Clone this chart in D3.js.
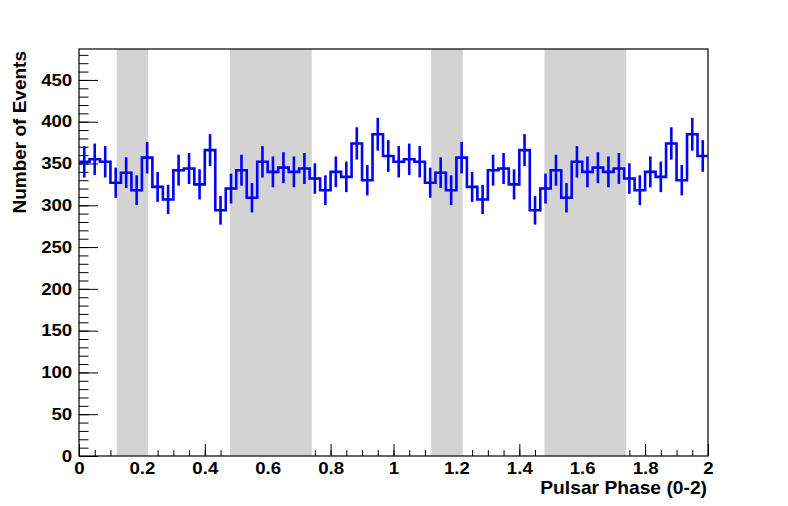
<!DOCTYPE html>
<html>
<head>
<meta charset="utf-8">
<script src="https://cdn.jsdelivr.net/npm/d3@7"></script>
<style>
	body { margin: 0; background: #fff; }
	svg { display: block; }
	text { font-family: 'Liberation Sans', Arial, sans-serif; font-weight: bold; fill: #000; }
	.tick text { font-size: 16.5px; }
	.axis-title { font-size: 17.5px; }
	.y-title { font-size: 19px; }
</style>
</head>
<body>
<div id="chart"></div>
<script>
// 60 bins over phase 0-2 (phase 0-1 shown twice)
const counts = [
	352, 355, 352, 327, 339, 318, 357, 322, 307, 342,
	344, 325, 366, 294, 320, 342, 309, 352, 340, 345,
	340, 344, 332, 318, 340, 334, 374, 330, 385, 359,
	352, 355, 352, 327, 339, 318, 357, 322, 307, 342,
	344, 325, 366, 294, 320, 342, 309, 352, 340, 345,
	340, 344, 332, 318, 340, 334, 374, 330, 385, 359
];
const offStart = [0.12, 0.48, 1.12, 1.48];
const offEnd = [0.22, 0.74, 1.22, 1.74];
const phaseRange = [0, 2];
const countRange = [0, 487];
const xTitle = 'Pulsar Phase (0-2)';
const yTitle = 'Number of Events';

const margin = { top: 49, right: 80, bottom: 50, left: 79 };
const width = 788 - margin.left - margin.right,
			height = 506 - margin.top - margin.bottom;
const binWidth = (phaseRange[1] - phaseRange[0]) / counts.length;

const xScale = d3.scaleLinear().domain(phaseRange).range([0, width]);
const yScale = d3.scaleLinear().domain(countRange).range([height, 0]);

const svg = d3.select('#chart').append('svg')
	.attr('width', 788)
	.attr('height', 506);
const g = svg.append('g')
	.attr('transform', 'translate(' + margin.left + ',' + margin.top + ')');

// minor ticks
g.append('g')
	.attr('transform', 'translate(0,' + height + ')')
	.call(d3.axisBottom(xScale).tickValues(xScale.ticks(40)).tickSize(-6).tickFormat(''))
	.call(a => a.select('.domain').remove());
g.append('g')
	.call(d3.axisLeft(yScale).tickValues(yScale.ticks(50)).tickSize(-9.5).tickFormat(''))
	.call(a => a.select('.domain').remove());

// major ticks + labels
g.append('g')
	.attr('transform', 'translate(0,' + height + ')')
	.call(d3.axisBottom(xScale).tickValues(xScale.ticks(10)).tickSize(-12).tickPadding(6).tickFormat(d3.format('~g')))
	.call(a => a.select('.domain').remove());
g.append('g')
	.call(d3.axisLeft(yScale).tickValues(yScale.ticks(10)).tickSize(-19).tickPadding(6).tickFormat(d3.format('~g')))
	.call(a => a.select('.domain').remove());
g.selectAll('.tick line').attr('stroke', '#000');
// the labels in the reference are a bit wider than plain Helvetica
g.selectAll('.tick text').attr('transform', 'scale(1.13,1)');

// off-pulse regions
g.append('g').selectAll('rect').data(offStart)
	.enter().append('rect')
		.attr('x', d => xScale(d))
		.attr('y', 0)
		.attr('width', (d, i) => xScale(offEnd[i]) - xScale(d))
		.attr('height', height)
		.style('fill', '#d3d3d3');

// frame
g.append('rect')
	.attr('x', 0)
	.attr('y', 0)
	.attr('width', width)
	.attr('height', height)
	.style('fill', 'none')
	.style('stroke', '#000')
	.style('stroke-width', 1.2);

// histogram steps
const steps = [];
counts.forEach((c, i) => {
	steps.push([phaseRange[0] + i * binWidth, c]);
	steps.push([phaseRange[0] + (i + 1) * binWidth, c]);
});
g.append('path')
	.datum(steps)
	.attr('d', d3.line().x(d => xScale(d[0])).y(d => yScale(d[1])))
	.style('fill', 'none')
	.style('stroke', '#0000ff')
	.style('stroke-width', 2.6);

// poisson error bars
g.append('g').selectAll('line').data(counts)
	.enter().append('line')
		.attr('x1', (d, i) => xScale(phaseRange[0] + (i + 0.5) * binWidth))
		.attr('x2', (d, i) => xScale(phaseRange[0] + (i + 0.5) * binWidth))
		.attr('y1', d => yScale(d - Math.sqrt(d)))
		.attr('y2', d => yScale(d + Math.sqrt(d)))
		.style('stroke', '#0000ff')
		.style('stroke-width', 2.6);

svg.append('text')
	.attr('class', 'axis-title')
	.attr('text-anchor', 'end')
	.attr('transform', 'translate(' + (margin.left + width - 1) + ',494) scale(1.1,1)')
	.text(xTitle);

svg.append('text')
	.attr('class', 'y-title')
	.attr('x', 26)
	.attr('y', margin.top + 2)
	.attr('text-anchor', 'end')
	.attr('transform', 'rotate(-90, 26, ' + (margin.top + 2) + ')')
	.text(yTitle);
</script>
</body>
</html>
